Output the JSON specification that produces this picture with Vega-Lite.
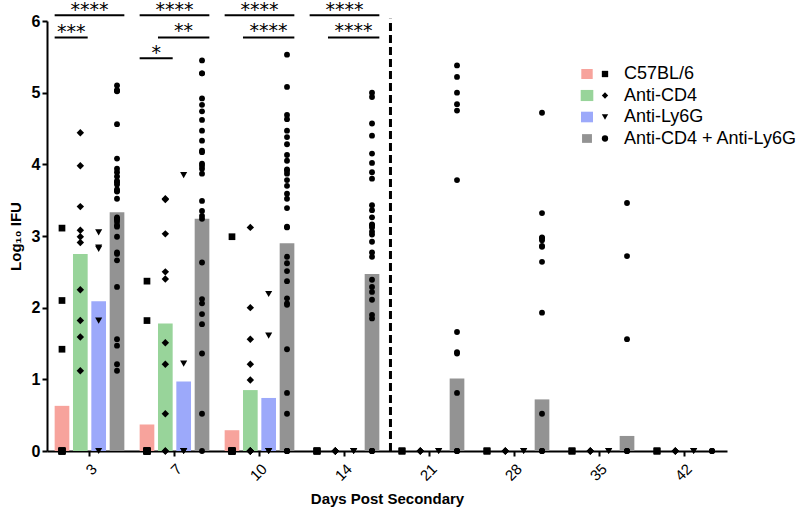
{
  "$schema": "https://vega.github.io/schema/vega-lite/v6.json",
  "width": 680,
  "height": 430,
  "autosize": {"type": "none"},
  "padding": {"left": 47, "top": 21, "right": 73, "bottom": 63},
  "background": "white",
  "config": {
    "view": {"stroke": null},
    "font": "Liberation Sans",
    "axis": {
      "grid": false,
      "domainColor": "black",
      "domainWidth": 2,
      "tickColor": "black",
      "tickWidth": 2,
      "tickSize": 5,
      "labelColor": "black",
      "titleColor": "black",
      "labelFont": "Liberation Sans",
      "titleFont": "Liberation Sans"
    },
    "legend": {
      "labelFont": "Liberation Sans",
      "labelFontSize": 18,
      "labelColor": "black",
      "labelLimit": 0,
      "padding": 0,
      "rowPadding": 3.5
    }
  },
  "datasets": {
    "bars": [
      {"day": 3, "group": "C57BL/6", "mean_log_ifu": 0.63},
      {"day": 3, "group": "Anti-CD4", "mean_log_ifu": 2.75},
      {"day": 3, "group": "Anti-Ly6G", "mean_log_ifu": 2.09},
      {"day": 3, "group": "Anti-CD4 + Anti-Ly6G", "mean_log_ifu": 3.33},
      {"day": 7, "group": "C57BL/6", "mean_log_ifu": 0.37},
      {"day": 7, "group": "Anti-CD4", "mean_log_ifu": 1.78},
      {"day": 7, "group": "Anti-Ly6G", "mean_log_ifu": 0.97},
      {"day": 7, "group": "Anti-CD4 + Anti-Ly6G", "mean_log_ifu": 3.24},
      {"day": 10, "group": "C57BL/6", "mean_log_ifu": 0.29},
      {"day": 10, "group": "Anti-CD4", "mean_log_ifu": 0.85},
      {"day": 10, "group": "Anti-Ly6G", "mean_log_ifu": 0.74},
      {"day": 10, "group": "Anti-CD4 + Anti-Ly6G", "mean_log_ifu": 2.90},
      {"day": 14, "group": "C57BL/6", "mean_log_ifu": 0},
      {"day": 14, "group": "Anti-CD4", "mean_log_ifu": 0},
      {"day": 14, "group": "Anti-Ly6G", "mean_log_ifu": 0},
      {"day": 14, "group": "Anti-CD4 + Anti-Ly6G", "mean_log_ifu": 2.47},
      {"day": 21, "group": "C57BL/6", "mean_log_ifu": 0},
      {"day": 21, "group": "Anti-CD4", "mean_log_ifu": 0},
      {"day": 21, "group": "Anti-Ly6G", "mean_log_ifu": 0},
      {"day": 21, "group": "Anti-CD4 + Anti-Ly6G", "mean_log_ifu": 1.01},
      {"day": 28, "group": "C57BL/6", "mean_log_ifu": 0},
      {"day": 28, "group": "Anti-CD4", "mean_log_ifu": 0},
      {"day": 28, "group": "Anti-Ly6G", "mean_log_ifu": 0},
      {"day": 28, "group": "Anti-CD4 + Anti-Ly6G", "mean_log_ifu": 0.72},
      {"day": 35, "group": "C57BL/6", "mean_log_ifu": 0},
      {"day": 35, "group": "Anti-CD4", "mean_log_ifu": 0},
      {"day": 35, "group": "Anti-Ly6G", "mean_log_ifu": 0},
      {"day": 35, "group": "Anti-CD4 + Anti-Ly6G", "mean_log_ifu": 0.21},
      {"day": 42, "group": "C57BL/6", "mean_log_ifu": 0},
      {"day": 42, "group": "Anti-CD4", "mean_log_ifu": 0},
      {"day": 42, "group": "Anti-Ly6G", "mean_log_ifu": 0},
      {"day": 42, "group": "Anti-CD4 + Anti-Ly6G", "mean_log_ifu": 0}
    ],
    "points": [
      {"day": 3, "group": "C57BL/6", "log_ifu": 3.11},
      {"day": 3, "group": "C57BL/6", "log_ifu": 2.10},
      {"day": 3, "group": "C57BL/6", "log_ifu": 1.42},
      {"day": 3, "group": "C57BL/6", "log_ifu": 0},
      {"day": 3, "group": "C57BL/6", "log_ifu": 0},
      {"day": 3, "group": "C57BL/6", "log_ifu": 0},
      {"day": 3, "group": "C57BL/6", "log_ifu": 0},
      {"day": 3, "group": "C57BL/6", "log_ifu": 0},
      {"day": 3, "group": "C57BL/6", "log_ifu": 0},
      {"day": 3, "group": "C57BL/6", "log_ifu": 0},
      {"day": 3, "group": "Anti-CD4", "log_ifu": 4.44},
      {"day": 3, "group": "Anti-CD4", "log_ifu": 3.98},
      {"day": 3, "group": "Anti-CD4", "log_ifu": 3.41},
      {"day": 3, "group": "Anti-CD4", "log_ifu": 3.08},
      {"day": 3, "group": "Anti-CD4", "log_ifu": 2.99},
      {"day": 3, "group": "Anti-CD4", "log_ifu": 2.91},
      {"day": 3, "group": "Anti-CD4", "log_ifu": 2.25},
      {"day": 3, "group": "Anti-CD4", "log_ifu": 1.82},
      {"day": 3, "group": "Anti-CD4", "log_ifu": 1.59},
      {"day": 3, "group": "Anti-CD4", "log_ifu": 1.12},
      {"day": 3, "group": "Anti-Ly6G", "log_ifu": 3.05},
      {"day": 3, "group": "Anti-Ly6G", "log_ifu": 2.84},
      {"day": 3, "group": "Anti-Ly6G", "log_ifu": 2.82},
      {"day": 3, "group": "Anti-Ly6G", "log_ifu": 1.82},
      {"day": 3, "group": "Anti-Ly6G", "log_ifu": 0},
      {"day": 3, "group": "Anti-CD4 + Anti-Ly6G", "log_ifu": 5.10},
      {"day": 3, "group": "Anti-CD4 + Anti-Ly6G", "log_ifu": 5.03},
      {"day": 3, "group": "Anti-CD4 + Anti-Ly6G", "log_ifu": 5.03},
      {"day": 3, "group": "Anti-CD4 + Anti-Ly6G", "log_ifu": 5.02},
      {"day": 3, "group": "Anti-CD4 + Anti-Ly6G", "log_ifu": 4.56},
      {"day": 3, "group": "Anti-CD4 + Anti-Ly6G", "log_ifu": 4.08},
      {"day": 3, "group": "Anti-CD4 + Anti-Ly6G", "log_ifu": 3.94},
      {"day": 3, "group": "Anti-CD4 + Anti-Ly6G", "log_ifu": 3.89},
      {"day": 3, "group": "Anti-CD4 + Anti-Ly6G", "log_ifu": 3.83},
      {"day": 3, "group": "Anti-CD4 + Anti-Ly6G", "log_ifu": 3.77},
      {"day": 3, "group": "Anti-CD4 + Anti-Ly6G", "log_ifu": 3.75},
      {"day": 3, "group": "Anti-CD4 + Anti-Ly6G", "log_ifu": 3.72},
      {"day": 3, "group": "Anti-CD4 + Anti-Ly6G", "log_ifu": 3.65},
      {"day": 3, "group": "Anti-CD4 + Anti-Ly6G", "log_ifu": 3.63},
      {"day": 3, "group": "Anti-CD4 + Anti-Ly6G", "log_ifu": 3.62},
      {"day": 3, "group": "Anti-CD4 + Anti-Ly6G", "log_ifu": 3.52},
      {"day": 3, "group": "Anti-CD4 + Anti-Ly6G", "log_ifu": 3.26},
      {"day": 3, "group": "Anti-CD4 + Anti-Ly6G", "log_ifu": 3.24},
      {"day": 3, "group": "Anti-CD4 + Anti-Ly6G", "log_ifu": 3.23},
      {"day": 3, "group": "Anti-CD4 + Anti-Ly6G", "log_ifu": 3.20},
      {"day": 3, "group": "Anti-CD4 + Anti-Ly6G", "log_ifu": 3.15},
      {"day": 3, "group": "Anti-CD4 + Anti-Ly6G", "log_ifu": 3.13},
      {"day": 3, "group": "Anti-CD4 + Anti-Ly6G", "log_ifu": 2.99},
      {"day": 3, "group": "Anti-CD4 + Anti-Ly6G", "log_ifu": 2.77},
      {"day": 3, "group": "Anti-CD4 + Anti-Ly6G", "log_ifu": 2.75},
      {"day": 3, "group": "Anti-CD4 + Anti-Ly6G", "log_ifu": 2.66},
      {"day": 3, "group": "Anti-CD4 + Anti-Ly6G", "log_ifu": 2.29},
      {"day": 3, "group": "Anti-CD4 + Anti-Ly6G", "log_ifu": 1.56},
      {"day": 3, "group": "Anti-CD4 + Anti-Ly6G", "log_ifu": 1.47},
      {"day": 3, "group": "Anti-CD4 + Anti-Ly6G", "log_ifu": 1.21},
      {"day": 3, "group": "Anti-CD4 + Anti-Ly6G", "log_ifu": 1.12},
      {"day": 7, "group": "C57BL/6", "log_ifu": 2.37},
      {"day": 7, "group": "C57BL/6", "log_ifu": 1.82},
      {"day": 7, "group": "C57BL/6", "log_ifu": 0},
      {"day": 7, "group": "C57BL/6", "log_ifu": 0},
      {"day": 7, "group": "C57BL/6", "log_ifu": 0},
      {"day": 7, "group": "C57BL/6", "log_ifu": 0},
      {"day": 7, "group": "C57BL/6", "log_ifu": 0},
      {"day": 7, "group": "C57BL/6", "log_ifu": 0},
      {"day": 7, "group": "C57BL/6", "log_ifu": 0},
      {"day": 7, "group": "C57BL/6", "log_ifu": 0},
      {"day": 7, "group": "C57BL/6", "log_ifu": 0},
      {"day": 7, "group": "Anti-CD4", "log_ifu": 3.51},
      {"day": 7, "group": "Anti-CD4", "log_ifu": 3.52},
      {"day": 7, "group": "Anti-CD4", "log_ifu": 3.03},
      {"day": 7, "group": "Anti-CD4", "log_ifu": 2.50},
      {"day": 7, "group": "Anti-CD4", "log_ifu": 2.40},
      {"day": 7, "group": "Anti-CD4", "log_ifu": 1.51},
      {"day": 7, "group": "Anti-CD4", "log_ifu": 1.21},
      {"day": 7, "group": "Anti-CD4", "log_ifu": 0.52},
      {"day": 7, "group": "Anti-CD4", "log_ifu": 0},
      {"day": 7, "group": "Anti-CD4", "log_ifu": 0},
      {"day": 7, "group": "Anti-Ly6G", "log_ifu": 3.85},
      {"day": 7, "group": "Anti-Ly6G", "log_ifu": 1.22},
      {"day": 7, "group": "Anti-Ly6G", "log_ifu": 0},
      {"day": 7, "group": "Anti-Ly6G", "log_ifu": 0},
      {"day": 7, "group": "Anti-Ly6G", "log_ifu": 0},
      {"day": 7, "group": "Anti-CD4 + Anti-Ly6G", "log_ifu": 5.45},
      {"day": 7, "group": "Anti-CD4 + Anti-Ly6G", "log_ifu": 5.27},
      {"day": 7, "group": "Anti-CD4 + Anti-Ly6G", "log_ifu": 5.27},
      {"day": 7, "group": "Anti-CD4 + Anti-Ly6G", "log_ifu": 4.92},
      {"day": 7, "group": "Anti-CD4 + Anti-Ly6G", "log_ifu": 4.83},
      {"day": 7, "group": "Anti-CD4 + Anti-Ly6G", "log_ifu": 4.74},
      {"day": 7, "group": "Anti-CD4 + Anti-Ly6G", "log_ifu": 4.62},
      {"day": 7, "group": "Anti-CD4 + Anti-Ly6G", "log_ifu": 4.47},
      {"day": 7, "group": "Anti-CD4 + Anti-Ly6G", "log_ifu": 4.33},
      {"day": 7, "group": "Anti-CD4 + Anti-Ly6G", "log_ifu": 4.19},
      {"day": 7, "group": "Anti-CD4 + Anti-Ly6G", "log_ifu": 4.17},
      {"day": 7, "group": "Anti-CD4 + Anti-Ly6G", "log_ifu": 4.01},
      {"day": 7, "group": "Anti-CD4 + Anti-Ly6G", "log_ifu": 3.98},
      {"day": 7, "group": "Anti-CD4 + Anti-Ly6G", "log_ifu": 3.94},
      {"day": 7, "group": "Anti-CD4 + Anti-Ly6G", "log_ifu": 3.87},
      {"day": 7, "group": "Anti-CD4 + Anti-Ly6G", "log_ifu": 3.49},
      {"day": 7, "group": "Anti-CD4 + Anti-Ly6G", "log_ifu": 3.35},
      {"day": 7, "group": "Anti-CD4 + Anti-Ly6G", "log_ifu": 3.28},
      {"day": 7, "group": "Anti-CD4 + Anti-Ly6G", "log_ifu": 3.24},
      {"day": 7, "group": "Anti-CD4 + Anti-Ly6G", "log_ifu": 2.63},
      {"day": 7, "group": "Anti-CD4 + Anti-Ly6G", "log_ifu": 2.12},
      {"day": 7, "group": "Anti-CD4 + Anti-Ly6G", "log_ifu": 2.06},
      {"day": 7, "group": "Anti-CD4 + Anti-Ly6G", "log_ifu": 1.91},
      {"day": 7, "group": "Anti-CD4 + Anti-Ly6G", "log_ifu": 1.77},
      {"day": 7, "group": "Anti-CD4 + Anti-Ly6G", "log_ifu": 1.36},
      {"day": 7, "group": "Anti-CD4 + Anti-Ly6G", "log_ifu": 0.52},
      {"day": 7, "group": "Anti-CD4 + Anti-Ly6G", "log_ifu": 0},
      {"day": 10, "group": "C57BL/6", "log_ifu": 2.99},
      {"day": 10, "group": "C57BL/6", "log_ifu": 0},
      {"day": 10, "group": "C57BL/6", "log_ifu": 0},
      {"day": 10, "group": "C57BL/6", "log_ifu": 0},
      {"day": 10, "group": "C57BL/6", "log_ifu": 0},
      {"day": 10, "group": "C57BL/6", "log_ifu": 0},
      {"day": 10, "group": "C57BL/6", "log_ifu": 0},
      {"day": 10, "group": "C57BL/6", "log_ifu": 0},
      {"day": 10, "group": "C57BL/6", "log_ifu": 0},
      {"day": 10, "group": "C57BL/6", "log_ifu": 0},
      {"day": 10, "group": "Anti-CD4", "log_ifu": 3.12},
      {"day": 10, "group": "Anti-CD4", "log_ifu": 2.00},
      {"day": 10, "group": "Anti-CD4", "log_ifu": 1.56},
      {"day": 10, "group": "Anti-CD4", "log_ifu": 1.21},
      {"day": 10, "group": "Anti-CD4", "log_ifu": 0.99},
      {"day": 10, "group": "Anti-CD4", "log_ifu": 0},
      {"day": 10, "group": "Anti-CD4", "log_ifu": 0},
      {"day": 10, "group": "Anti-CD4", "log_ifu": 0},
      {"day": 10, "group": "Anti-CD4", "log_ifu": 0},
      {"day": 10, "group": "Anti-CD4", "log_ifu": 0},
      {"day": 10, "group": "Anti-Ly6G", "log_ifu": 2.19},
      {"day": 10, "group": "Anti-Ly6G", "log_ifu": 1.61},
      {"day": 10, "group": "Anti-Ly6G", "log_ifu": 0},
      {"day": 10, "group": "Anti-Ly6G", "log_ifu": 0},
      {"day": 10, "group": "Anti-Ly6G", "log_ifu": 0},
      {"day": 10, "group": "Anti-CD4 + Anti-Ly6G", "log_ifu": 5.53},
      {"day": 10, "group": "Anti-CD4 + Anti-Ly6G", "log_ifu": 5.08},
      {"day": 10, "group": "Anti-CD4 + Anti-Ly6G", "log_ifu": 4.69},
      {"day": 10, "group": "Anti-CD4 + Anti-Ly6G", "log_ifu": 4.63},
      {"day": 10, "group": "Anti-CD4 + Anti-Ly6G", "log_ifu": 4.47},
      {"day": 10, "group": "Anti-CD4 + Anti-Ly6G", "log_ifu": 4.38},
      {"day": 10, "group": "Anti-CD4 + Anti-Ly6G", "log_ifu": 4.28},
      {"day": 10, "group": "Anti-CD4 + Anti-Ly6G", "log_ifu": 4.13},
      {"day": 10, "group": "Anti-CD4 + Anti-Ly6G", "log_ifu": 4.05},
      {"day": 10, "group": "Anti-CD4 + Anti-Ly6G", "log_ifu": 3.93},
      {"day": 10, "group": "Anti-CD4 + Anti-Ly6G", "log_ifu": 3.91},
      {"day": 10, "group": "Anti-CD4 + Anti-Ly6G", "log_ifu": 3.87},
      {"day": 10, "group": "Anti-CD4 + Anti-Ly6G", "log_ifu": 3.78},
      {"day": 10, "group": "Anti-CD4 + Anti-Ly6G", "log_ifu": 3.70},
      {"day": 10, "group": "Anti-CD4 + Anti-Ly6G", "log_ifu": 3.59},
      {"day": 10, "group": "Anti-CD4 + Anti-Ly6G", "log_ifu": 3.52},
      {"day": 10, "group": "Anti-CD4 + Anti-Ly6G", "log_ifu": 3.39},
      {"day": 10, "group": "Anti-CD4 + Anti-Ly6G", "log_ifu": 3.13},
      {"day": 10, "group": "Anti-CD4 + Anti-Ly6G", "log_ifu": 3.12},
      {"day": 10, "group": "Anti-CD4 + Anti-Ly6G", "log_ifu": 2.71},
      {"day": 10, "group": "Anti-CD4 + Anti-Ly6G", "log_ifu": 2.62},
      {"day": 10, "group": "Anti-CD4 + Anti-Ly6G", "log_ifu": 2.51},
      {"day": 10, "group": "Anti-CD4 + Anti-Ly6G", "log_ifu": 2.37},
      {"day": 10, "group": "Anti-CD4 + Anti-Ly6G", "log_ifu": 2.13},
      {"day": 10, "group": "Anti-CD4 + Anti-Ly6G", "log_ifu": 2.06},
      {"day": 10, "group": "Anti-CD4 + Anti-Ly6G", "log_ifu": 2.04},
      {"day": 10, "group": "Anti-CD4 + Anti-Ly6G", "log_ifu": 1.42},
      {"day": 10, "group": "Anti-CD4 + Anti-Ly6G", "log_ifu": 0.81},
      {"day": 10, "group": "Anti-CD4 + Anti-Ly6G", "log_ifu": 0.52},
      {"day": 10, "group": "Anti-CD4 + Anti-Ly6G", "log_ifu": 0},
      {"day": 10, "group": "Anti-CD4 + Anti-Ly6G", "log_ifu": 0},
      {"day": 10, "group": "Anti-CD4 + Anti-Ly6G", "log_ifu": 0},
      {"day": 10, "group": "Anti-CD4 + Anti-Ly6G", "log_ifu": 0},
      {"day": 14, "group": "C57BL/6", "log_ifu": 0},
      {"day": 14, "group": "C57BL/6", "log_ifu": 0},
      {"day": 14, "group": "C57BL/6", "log_ifu": 0},
      {"day": 14, "group": "C57BL/6", "log_ifu": 0},
      {"day": 14, "group": "C57BL/6", "log_ifu": 0},
      {"day": 14, "group": "Anti-CD4", "log_ifu": 0},
      {"day": 14, "group": "Anti-CD4", "log_ifu": 0},
      {"day": 14, "group": "Anti-CD4", "log_ifu": 0},
      {"day": 14, "group": "Anti-CD4", "log_ifu": 0},
      {"day": 14, "group": "Anti-CD4", "log_ifu": 0},
      {"day": 14, "group": "Anti-Ly6G", "log_ifu": 0},
      {"day": 14, "group": "Anti-Ly6G", "log_ifu": 0},
      {"day": 14, "group": "Anti-Ly6G", "log_ifu": 0},
      {"day": 14, "group": "Anti-CD4 + Anti-Ly6G", "log_ifu": 5.00},
      {"day": 14, "group": "Anti-CD4 + Anti-Ly6G", "log_ifu": 4.94},
      {"day": 14, "group": "Anti-CD4 + Anti-Ly6G", "log_ifu": 4.57},
      {"day": 14, "group": "Anti-CD4 + Anti-Ly6G", "log_ifu": 4.40},
      {"day": 14, "group": "Anti-CD4 + Anti-Ly6G", "log_ifu": 4.15},
      {"day": 14, "group": "Anti-CD4 + Anti-Ly6G", "log_ifu": 4.02},
      {"day": 14, "group": "Anti-CD4 + Anti-Ly6G", "log_ifu": 3.89},
      {"day": 14, "group": "Anti-CD4 + Anti-Ly6G", "log_ifu": 3.80},
      {"day": 14, "group": "Anti-CD4 + Anti-Ly6G", "log_ifu": 3.43},
      {"day": 14, "group": "Anti-CD4 + Anti-Ly6G", "log_ifu": 3.36},
      {"day": 14, "group": "Anti-CD4 + Anti-Ly6G", "log_ifu": 3.26},
      {"day": 14, "group": "Anti-CD4 + Anti-Ly6G", "log_ifu": 3.16},
      {"day": 14, "group": "Anti-CD4 + Anti-Ly6G", "log_ifu": 3.15},
      {"day": 14, "group": "Anti-CD4 + Anti-Ly6G", "log_ifu": 3.12},
      {"day": 14, "group": "Anti-CD4 + Anti-Ly6G", "log_ifu": 3.06},
      {"day": 14, "group": "Anti-CD4 + Anti-Ly6G", "log_ifu": 3.02},
      {"day": 14, "group": "Anti-CD4 + Anti-Ly6G", "log_ifu": 2.92},
      {"day": 14, "group": "Anti-CD4 + Anti-Ly6G", "log_ifu": 2.77},
      {"day": 14, "group": "Anti-CD4 + Anti-Ly6G", "log_ifu": 2.71},
      {"day": 14, "group": "Anti-CD4 + Anti-Ly6G", "log_ifu": 2.39},
      {"day": 14, "group": "Anti-CD4 + Anti-Ly6G", "log_ifu": 2.29},
      {"day": 14, "group": "Anti-CD4 + Anti-Ly6G", "log_ifu": 2.22},
      {"day": 14, "group": "Anti-CD4 + Anti-Ly6G", "log_ifu": 2.11},
      {"day": 14, "group": "Anti-CD4 + Anti-Ly6G", "log_ifu": 1.90},
      {"day": 14, "group": "Anti-CD4 + Anti-Ly6G", "log_ifu": 1.85},
      {"day": 14, "group": "Anti-CD4 + Anti-Ly6G", "log_ifu": 0},
      {"day": 14, "group": "Anti-CD4 + Anti-Ly6G", "log_ifu": 0},
      {"day": 14, "group": "Anti-CD4 + Anti-Ly6G", "log_ifu": 0},
      {"day": 14, "group": "Anti-CD4 + Anti-Ly6G", "log_ifu": 0},
      {"day": 21, "group": "C57BL/6", "log_ifu": 0},
      {"day": 21, "group": "C57BL/6", "log_ifu": 0},
      {"day": 21, "group": "C57BL/6", "log_ifu": 0},
      {"day": 21, "group": "Anti-CD4", "log_ifu": 0},
      {"day": 21, "group": "Anti-CD4", "log_ifu": 0},
      {"day": 21, "group": "Anti-CD4", "log_ifu": 0},
      {"day": 21, "group": "Anti-Ly6G", "log_ifu": 0},
      {"day": 21, "group": "Anti-Ly6G", "log_ifu": 0},
      {"day": 21, "group": "Anti-CD4 + Anti-Ly6G", "log_ifu": 5.38},
      {"day": 21, "group": "Anti-CD4 + Anti-Ly6G", "log_ifu": 5.22},
      {"day": 21, "group": "Anti-CD4 + Anti-Ly6G", "log_ifu": 5.00},
      {"day": 21, "group": "Anti-CD4 + Anti-Ly6G", "log_ifu": 4.84},
      {"day": 21, "group": "Anti-CD4 + Anti-Ly6G", "log_ifu": 4.75},
      {"day": 21, "group": "Anti-CD4 + Anti-Ly6G", "log_ifu": 3.78},
      {"day": 21, "group": "Anti-CD4 + Anti-Ly6G", "log_ifu": 1.66},
      {"day": 21, "group": "Anti-CD4 + Anti-Ly6G", "log_ifu": 1.38},
      {"day": 21, "group": "Anti-CD4 + Anti-Ly6G", "log_ifu": 1.36},
      {"day": 21, "group": "Anti-CD4 + Anti-Ly6G", "log_ifu": 0.81},
      {"day": 21, "group": "Anti-CD4 + Anti-Ly6G", "log_ifu": 0},
      {"day": 21, "group": "Anti-CD4 + Anti-Ly6G", "log_ifu": 0},
      {"day": 21, "group": "Anti-CD4 + Anti-Ly6G", "log_ifu": 0},
      {"day": 28, "group": "C57BL/6", "log_ifu": 0},
      {"day": 28, "group": "C57BL/6", "log_ifu": 0},
      {"day": 28, "group": "C57BL/6", "log_ifu": 0},
      {"day": 28, "group": "Anti-CD4", "log_ifu": 0},
      {"day": 28, "group": "Anti-CD4", "log_ifu": 0},
      {"day": 28, "group": "Anti-CD4", "log_ifu": 0},
      {"day": 28, "group": "Anti-Ly6G", "log_ifu": 0},
      {"day": 28, "group": "Anti-Ly6G", "log_ifu": 0},
      {"day": 28, "group": "Anti-CD4 + Anti-Ly6G", "log_ifu": 4.72},
      {"day": 28, "group": "Anti-CD4 + Anti-Ly6G", "log_ifu": 3.32},
      {"day": 28, "group": "Anti-CD4 + Anti-Ly6G", "log_ifu": 2.98},
      {"day": 28, "group": "Anti-CD4 + Anti-Ly6G", "log_ifu": 2.97},
      {"day": 28, "group": "Anti-CD4 + Anti-Ly6G", "log_ifu": 2.94},
      {"day": 28, "group": "Anti-CD4 + Anti-Ly6G", "log_ifu": 2.86},
      {"day": 28, "group": "Anti-CD4 + Anti-Ly6G", "log_ifu": 2.85},
      {"day": 28, "group": "Anti-CD4 + Anti-Ly6G", "log_ifu": 2.64},
      {"day": 28, "group": "Anti-CD4 + Anti-Ly6G", "log_ifu": 1.93},
      {"day": 28, "group": "Anti-CD4 + Anti-Ly6G", "log_ifu": 0.52},
      {"day": 28, "group": "Anti-CD4 + Anti-Ly6G", "log_ifu": 0},
      {"day": 28, "group": "Anti-CD4 + Anti-Ly6G", "log_ifu": 0},
      {"day": 28, "group": "Anti-CD4 + Anti-Ly6G", "log_ifu": 0},
      {"day": 35, "group": "C57BL/6", "log_ifu": 0},
      {"day": 35, "group": "C57BL/6", "log_ifu": 0},
      {"day": 35, "group": "C57BL/6", "log_ifu": 0},
      {"day": 35, "group": "Anti-CD4", "log_ifu": 0},
      {"day": 35, "group": "Anti-CD4", "log_ifu": 0},
      {"day": 35, "group": "Anti-CD4", "log_ifu": 0},
      {"day": 35, "group": "Anti-Ly6G", "log_ifu": 0},
      {"day": 35, "group": "Anti-Ly6G", "log_ifu": 0},
      {"day": 35, "group": "Anti-CD4 + Anti-Ly6G", "log_ifu": 3.46},
      {"day": 35, "group": "Anti-CD4 + Anti-Ly6G", "log_ifu": 2.72},
      {"day": 35, "group": "Anti-CD4 + Anti-Ly6G", "log_ifu": 1.56},
      {"day": 35, "group": "Anti-CD4 + Anti-Ly6G", "log_ifu": 0},
      {"day": 35, "group": "Anti-CD4 + Anti-Ly6G", "log_ifu": 0},
      {"day": 35, "group": "Anti-CD4 + Anti-Ly6G", "log_ifu": 0},
      {"day": 42, "group": "C57BL/6", "log_ifu": 0},
      {"day": 42, "group": "C57BL/6", "log_ifu": 0},
      {"day": 42, "group": "C57BL/6", "log_ifu": 0},
      {"day": 42, "group": "Anti-CD4", "log_ifu": 0},
      {"day": 42, "group": "Anti-CD4", "log_ifu": 0},
      {"day": 42, "group": "Anti-CD4", "log_ifu": 0},
      {"day": 42, "group": "Anti-Ly6G", "log_ifu": 0},
      {"day": 42, "group": "Anti-Ly6G", "log_ifu": 0},
      {"day": 42, "group": "Anti-CD4 + Anti-Ly6G", "log_ifu": 0},
      {"day": 42, "group": "Anti-CD4 + Anti-Ly6G", "log_ifu": 0},
      {"day": 42, "group": "Anti-CD4 + Anti-Ly6G", "log_ifu": 0}
    ],
    "significance": [
      {"day": 3, "level": 6.08, "label": "****", "from": "C57BL/6", "to": "Anti-CD4 + Anti-Ly6G"},
      {"day": 3, "level": 5.77, "label": "***", "from": "C57BL/6", "to": "Anti-CD4"},
      {"day": 7, "level": 6.08, "label": "****", "from": "C57BL/6", "to": "Anti-CD4 + Anti-Ly6G"},
      {"day": 7, "level": 5.77, "label": "**", "from": "Anti-CD4", "to": "Anti-CD4 + Anti-Ly6G"},
      {"day": 7, "level": 5.48, "label": "*", "from": "C57BL/6", "to": "Anti-CD4"},
      {"day": 10, "level": 6.08, "label": "****", "from": "C57BL/6", "to": "Anti-CD4 + Anti-Ly6G"},
      {"day": 10, "level": 5.77, "label": "****", "from": "Anti-CD4", "to": "Anti-CD4 + Anti-Ly6G"},
      {"day": 14, "level": 6.08, "label": "****", "from": "C57BL/6", "to": "Anti-CD4 + Anti-Ly6G"},
      {"day": 14, "level": 5.77, "label": "****", "from": "Anti-CD4", "to": "Anti-CD4 + Anti-Ly6G"}
    ],
    "divider": [
      {"day": 21}
    ]
  },
  "layer": [
    {
      "data": {"name": "bars"},
      "mark": {"type": "bar", "opacity": 1},
      "encoding": {
        "x": {
          "field": "day", "type": "ordinal", "title": "Days Post Secondary",
          "scale": {"type": "band", "domain": [3, 7, 10, 14, 21, 28, 35, 42], "paddingInner": 0.18, "paddingOuter": 0.09},
          "axis": {"labelAngle": -45, "labelFontSize": 15, "labelPadding": 5, "titleFontSize": 15, "titleFontWeight": "bold", "titlePadding": 8}
        },
        "xOffset": {
          "field": "group", "type": "nominal",
          "scale": {"domain": ["C57BL/6", "Anti-CD4", "Anti-Ly6G", "Anti-CD4 + Anti-Ly6G"], "paddingInner": 0.2, "paddingOuter": 0}
        },
        "y": {
          "field": "mean_log_ifu", "type": "quantitative", "title": "Log₁₀ IFU",
          "scale": {"domain": [0, 6], "nice": false},
          "axis": {"values": [0, 1, 2, 3, 4, 5, 6], "format": "d", "labelFontSize": 16, "labelFontWeight": "bold", "labelPadding": 2, "titleFontSize": 15, "titleFontWeight": "bold", "titlePadding": 8}
        },
        "color": {
          "field": "group", "type": "nominal",
          "scale": {"domain": ["C57BL/6", "Anti-CD4", "Anti-Ly6G", "Anti-CD4 + Anti-Ly6G"], "range": ["#F7A39C", "#98D49A", "#9CA9FA", "#939393"]},
          "legend": {
            "orient": "none", "legendX": 531, "legendY": 44, "title": null,
            "symbolType": "M-1.7,-1.5H1.7V1.5H-1.7Z", "symbolStrokeWidth": 0, "symbolOpacity": 1, "labelExpr": "' '", "labelOffset": 2
          }
        }
      }
    },
    {
      "data": {"name": "divider"},
      "mark": {"type": "rule", "strokeWidth": 3, "strokeDash": [8, 4], "color": "black"},
      "encoding": {
        "x": {"field": "day", "type": "ordinal", "bandPosition": -0.06, "title": "Days Post Secondary", "scale": {"type": "band", "domain": [3, 7, 10, 14, 21, 28, 35, 42], "paddingInner": 0.18, "paddingOuter": 0.09}},
        "y": {"datum": 0, "type": "quantitative"},
        "y2": {"datum": 6.03}
      }
    },
    {
      "data": {"name": "points"},
      "mark": {"type": "point", "filled": true, "color": "black", "opacity": 1, "strokeWidth": 0},
      "encoding": {
        "x": {"field": "day", "type": "ordinal", "title": "Days Post Secondary", "scale": {"type": "band", "domain": [3, 7, 10, 14, 21, 28, 35, 42], "paddingInner": 0.18, "paddingOuter": 0.09}},
        "xOffset": {"field": "group", "type": "nominal", "scale": {"domain": ["C57BL/6", "Anti-CD4", "Anti-Ly6G", "Anti-CD4 + Anti-Ly6G"], "paddingInner": 0.2, "paddingOuter": 0}},
        "y": {"field": "log_ifu", "type": "quantitative", "title": "Log₁₀ IFU"},
        "shape": {
          "field": "group", "type": "nominal",
          "sort": ["C57BL/6", "Anti-CD4", "Anti-Ly6G", "Anti-CD4 + Anti-Ly6G"],
          "scale": {"range": ["square", "diamond", "triangle-down", "circle"]},
          "legend": {"orient": "none", "legendX": 549, "legendY": 44, "title": null, "symbolFillColor": "black", "symbolStrokeColor": "black", "symbolStrokeWidth": 0, "symbolSize": 40, "labelOffset": 10}
        },
        "size": {
          "field": "group", "type": "ordinal",
          "scale": {"type": "ordinal", "domain": ["C57BL/6", "Anti-CD4", "Anti-Ly6G", "Anti-CD4 + Anti-Ly6G"], "range": [45, 55, 50, 34]},
          "legend": null
        }
      }
    },
    {
      "data": {"name": "significance"},
      "transform": [{"filter": "datum.from === 'C57BL/6' && datum.to === 'Anti-CD4 + Anti-Ly6G'"}],
      "mark": {"type": "rule", "strokeWidth": 2, "color": "black"},
      "encoding": {
        "x": {"field": "day", "type": "ordinal", "bandPosition": 0, "title": "Days Post Secondary", "scale": {"type": "band", "domain": [3, 7, 10, 14, 21, 28, 35, 42], "paddingInner": 0.18, "paddingOuter": 0.09}},
        "x2": {"field": "day", "bandPosition": 1},
        "y": {"field": "level", "type": "quantitative", "title": "Log₁₀ IFU"}
      }
    },
    {
      "data": {"name": "significance"},
      "transform": [{"filter": "datum.from === 'C57BL/6' && datum.to === 'Anti-CD4'"}],
      "mark": {"type": "rule", "strokeWidth": 2, "color": "black"},
      "encoding": {
        "x": {"field": "day", "type": "ordinal", "bandPosition": 0, "title": "Days Post Secondary", "scale": {"type": "band", "domain": [3, 7, 10, 14, 21, 28, 35, 42], "paddingInner": 0.18, "paddingOuter": 0.09}},
        "x2": {"field": "day", "bandPosition": 0.474},
        "y": {"field": "level", "type": "quantitative", "title": "Log₁₀ IFU"}
      }
    },
    {
      "data": {"name": "significance"},
      "transform": [{"filter": "datum.from === 'Anti-CD4' && datum.to === 'Anti-CD4 + Anti-Ly6G'"}],
      "mark": {"type": "rule", "strokeWidth": 2, "color": "black"},
      "encoding": {
        "x": {"field": "day", "type": "ordinal", "bandPosition": 0.263, "title": "Days Post Secondary", "scale": {"type": "band", "domain": [3, 7, 10, 14, 21, 28, 35, 42], "paddingInner": 0.18, "paddingOuter": 0.09}},
        "x2": {"field": "day", "bandPosition": 1},
        "y": {"field": "level", "type": "quantitative", "title": "Log₁₀ IFU"}
      }
    },
    {
      "data": {"name": "significance"},
      "transform": [{"filter": "datum.from === 'C57BL/6' && datum.to === 'Anti-CD4 + Anti-Ly6G'"}],
      "mark": {"type": "text", "font": "DejaVu Sans", "fontSize": 19, "baseline": "top", "dy": -14, "color": "black"},
      "encoding": {
        "x": {"field": "day", "type": "ordinal", "bandPosition": 0.5, "title": "Days Post Secondary", "scale": {"type": "band", "domain": [3, 7, 10, 14, 21, 28, 35, 42], "paddingInner": 0.18, "paddingOuter": 0.09}},
        "y": {"field": "level", "type": "quantitative", "title": "Log₁₀ IFU"},
        "text": {"field": "label"}
      }
    },
    {
      "data": {"name": "significance"},
      "transform": [{"filter": "datum.from === 'C57BL/6' && datum.to === 'Anti-CD4'"}],
      "mark": {"type": "text", "font": "DejaVu Sans", "fontSize": 19, "baseline": "top", "dy": -14, "color": "black"},
      "encoding": {
        "x": {"field": "day", "type": "ordinal", "bandPosition": 0.237, "title": "Days Post Secondary", "scale": {"type": "band", "domain": [3, 7, 10, 14, 21, 28, 35, 42], "paddingInner": 0.18, "paddingOuter": 0.09}},
        "y": {"field": "level", "type": "quantitative", "title": "Log₁₀ IFU"},
        "text": {"field": "label"}
      }
    },
    {
      "data": {"name": "significance"},
      "transform": [{"filter": "datum.from === 'Anti-CD4' && datum.to === 'Anti-CD4 + Anti-Ly6G'"}],
      "mark": {"type": "text", "font": "DejaVu Sans", "fontSize": 19, "baseline": "top", "dy": -15, "color": "black"},
      "encoding": {
        "x": {"field": "day", "type": "ordinal", "bandPosition": 0.63, "title": "Days Post Secondary", "scale": {"type": "band", "domain": [3, 7, 10, 14, 21, 28, 35, 42], "paddingInner": 0.18, "paddingOuter": 0.09}},
        "y": {"field": "level", "type": "quantitative", "title": "Log₁₀ IFU"},
        "text": {"field": "label"}
      }
    }
  ]
}
